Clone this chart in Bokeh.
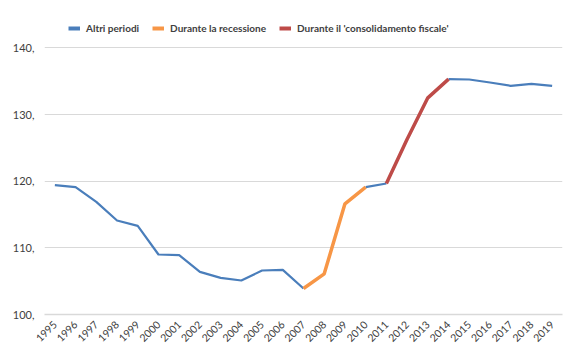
import math
from bokeh.plotting import figure
from bokeh.models import ColumnDataSource, FixedTicker, Legend, LegendItem, CustomJSTickFormatter
from bokeh.embed import file_html
from bokeh.resources import INLINE

years = list(range(1995, 2020))
values = [119.4, 119.1, 116.9, 114.1, 113.3, 109.0, 108.9, 106.4, 105.5, 105.1,
          106.6, 106.7, 103.9, 106.1, 116.6, 119.1, 119.65, 126.3, 132.5, 135.3,
          135.25, 134.8, 134.3, 134.6, 134.3]
recession_years = [2007, 2008, 2009, 2010]
consolidation_years = [2011, 2012, 2013, 2014]
other_years = [y for y in years if (y <= 2007 or 2010 <= y <= 2011 or y >= 2014)]

series_names = ["Altri periodi", "Durante la recessione", "Durante il 'consolidamento fiscale'"]
series_colors = ["#4a7ebb", "#f79646", "#be4b48"]

y_ticks = [100, 110, 120, 130, 140]
y_tick_labels = ["100,", "110,", "120,", "130,", "140,"]

val = dict(zip(years, values))

def build(sel):
    xs, ys = [], []
    for y in years:
        xs.append(y)
        ys.append(val[y] if y in sel else float("nan"))
    return ColumnDataSource(data=dict(x=xs, y=ys))

FONT = "Lato"
TXT = "#404040"

# extra headroom above 140 holds the legend, as in the reference
p = figure(width=580, height=359, output_backend="svg", toolbar_location=None,
           x_range=(1994.5, 2019.5), y_range=(100, 145.3),
           min_border_left=44, min_border_right=18, min_border_bottom=45, min_border_top=12)
p.outline_line_color = None
p.background_fill_color = "white"

p.line("x", "y", source=build(set(other_years)), line_color=series_colors[0], line_width=2.2, line_join="round")
p.line("x", "y", source=build(set(recession_years)), line_color=series_colors[1], line_width=3.5, line_join="round")
p.line("x", "y", source=build(set(consolidation_years)), line_color=series_colors[2], line_width=3.5, line_join="round")

items = []
for name, col in zip(series_names, series_colors):
    src = ColumnDataSource(data=dict(x=[float("nan")], y=[float("nan")]))
    r = p.line("x", "y", source=src, line_color=col, line_width=4)
    items.append(LegendItem(label=name, renderers=[r]))

legend = Legend(items=items, orientation="horizontal", location=(24, 280),
                label_text_font=FONT, label_text_font_style="bold", label_text_font_size="10px",
                label_text_color=TXT, glyph_width=12, glyph_height=10, spacing=13,
                label_standoff=6, padding=4, margin=0, border_line_color=None,
                background_fill_alpha=0)
p.add_layout(legend, "center")

p.yaxis.ticker = FixedTicker(ticks=y_ticks)
p.yaxis.formatter = CustomJSTickFormatter(
    args=dict(tvals=y_ticks, tlabels=y_tick_labels),
    code="const i = tvals.indexOf(Math.round(tick)); return i >= 0 ? tlabels[i] : '';")
p.yaxis.axis_line_color = None
p.yaxis.major_tick_line_color = None
p.yaxis.minor_tick_line_color = None
p.yaxis.major_label_text_font = FONT
p.yaxis.major_label_text_font_size = "11px"
p.yaxis.major_label_text_color = TXT
p.yaxis.major_label_standoff = 4

p.xaxis.ticker = FixedTicker(ticks=years)
p.xaxis.major_label_orientation = math.pi / 4
p.xaxis.axis_line_color = "#d9d9d9"
p.xaxis.axis_line_width = 1.5
p.xaxis.major_tick_line_color = None
p.xaxis.minor_tick_line_color = None
p.xaxis.major_label_text_font = FONT
p.xaxis.major_label_text_font_size = "10.5px"
p.xaxis.major_label_text_color = TXT
p.xaxis.major_label_standoff = 2

p.xgrid.grid_line_color = None
p.ygrid.grid_line_color = "#d9d9d9"
p.ygrid.grid_line_width = 1

open("out.html", "w").write(file_html(p, INLINE))
